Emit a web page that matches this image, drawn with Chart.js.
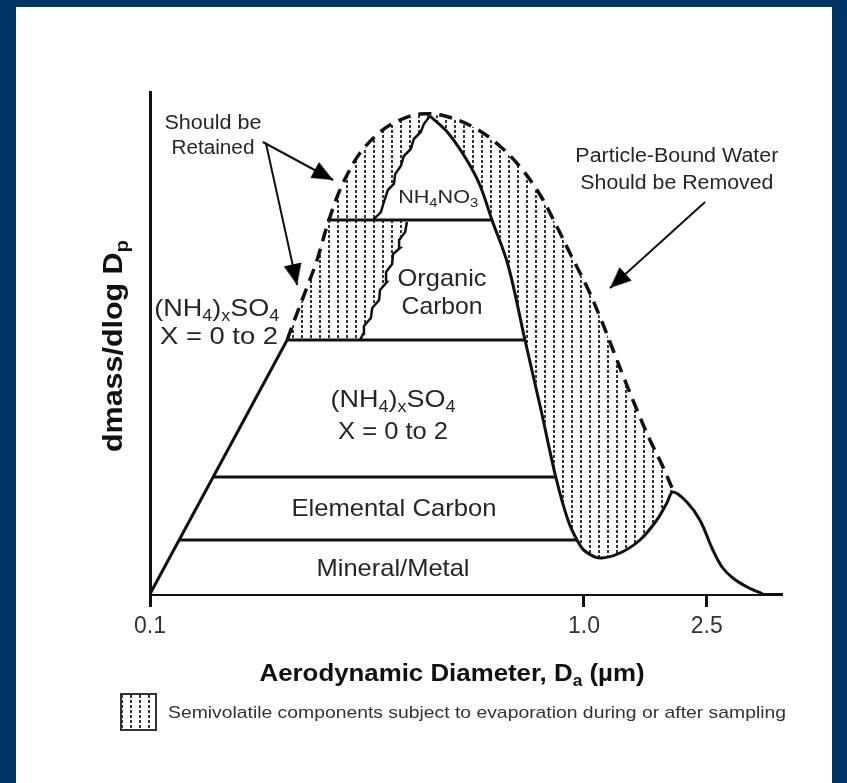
<!DOCTYPE html>
<html>
<head>
<meta charset="utf-8">
<script src="https://cdn.jsdelivr.net/npm/chart.js@4.4.1/dist/chart.umd.min.js"></script>
<style>
html,body{margin:0;padding:0;background:#003366;width:847px;height:783px;overflow:hidden}
#panel{position:absolute;left:16px;top:7px;width:816px;height:776px;background:#ffffff}
#wrap{position:absolute;left:0;top:0;width:847px;height:783px}
</style>
</head>
<body>
<div id="panel"></div>
<div id="wrap"><canvas id="c" width="847" height="783"></canvas></div>
<script>
// ---------- data (schematic units: x = 0 at 0.1 µm, 100 at 1.0 µm; y = relative dmass/dlogDp) ----------
const xTickPositions = [0, 100, 128.3];
const xTickLabels = ['0.1', '1.0', '2.5'];

// outer (dashed) envelope incl. particle-bound water & semivolatiles
const outerX = [31.6,33.9,36.2,38.5,40.8,43.1,45.4,48.4,53.0,57.6,62.2,68.0,74.9,80.6,85.3,89.9,93.8,97.2,100.7,103.7,106.7,109.4,112.4,115.2,118.0,120.5];
const outerY = [50.8,56.2,61.4,66.8,73.6,79.4,83.8,88.2,92.4,94.8,96.0,95.6,93.2,89.6,85.4,79.8,73.4,67.4,61.4,55.4,48.8,42.8,36.4,30.8,25.8,20.8];

// solid mass distribution (fine mode right flank + coarse mode)
const massX = [64.5,68.7,73.0,76.0,78.8,82.5,86.4,90.1,93.5,96.3,98.4,100.2,103.7,108.3,112.9,116.8,119.1,120.5,123.7,126.7,129.7,131.8,134.3,137.6,141.2];
const massY = [95.6,92.2,86.8,81.8,74.8,65.8,50.8,36.8,23.4,14.8,10.8,8.6,7.2,8.2,10.8,14.8,18.2,20.4,18.4,14.8,8.8,5.4,3.2,1.4,0];

// jagged evaporation edge of NH4NO3 layer
const nitrateEdgeX = [51.4,53.2,53.9,54.8,56.2,56.5,57.8,58.5,60.1,60.8,62.4,63.1,64.5];
const nitrateEdgeY = [74.8,76.4,78.4,80.8,82.0,84.0,85.6,87.6,89.0,91.0,92.4,94.0,95.6];

// jagged evaporation edge of organic carbon layer
const organicEdgeX = [48.4,49.1,49.3,50.9,51.2,52.8,53.0,54.6,54.4,55.8,56.0,57.6,57.4,58.8,59.2];
const organicEdgeY = [50.8,52.0,53.6,55.2,57.2,58.8,60.8,62.4,64.4,66.0,68.0,69.2,70.8,72.4,74.4];

// left rising flank
const leftEdgeX = [0, 31.6];
const leftEdgeY = [0, 50.8];

// layer boundaries (Mineral/Metal | Elemental C | (NH4)xSO4 | Organic C)
const layerTopY   = [10.8, 23.4, 50.8, 74.8];
const layerStartX = [6.7, 14.6, 31.6, 40.8];
const layerEndX   = [98.4, 93.5, 86.4, 78.8];

// annotation arrows
const arrowStartX = [26.0, 26.7, 127.9];
const arrowStartY = [90.4, 90.2, 78.4];
const arrowTipX   = [42.2, 33.9, 106.0];
const arrowTipY   = [82.8, 61.8, 61.2];

// in-plot labels (anchored in data units)
const labelTexts = ['Should be','Retained','Particle-Bound Water','Should be Removed','NH_4NO_3','Organic','Carbon','(NH_4)_xSO_4','X = 0 to 2','(NH_4)_xSO_4','X = 0 to 2','Elemental Carbon','Mineral/Metal'];
const labelX = [14.5,14.5,121.4,121.4,66.4,67.3,67.3,15.4,15.9,56.0,56.0,56.2,56.0];
const labelY = [94.4,89.4,87.8,82.4,79.6,63.4,57.8,57.4,51.8,39.2,32.8,17.4,5.4];

const xTitle = 'Aerodynamic Diameter, D_a (µm)';
const yTitle = 'dmass/dlog D_p';
const legendText = 'Semivolatile components subject to evaporation during or after sampling';

// ---------- styles ----------
const FONT = '"Liberation Sans", Arial, Helvetica, sans-serif';
const labelSize  = [20,20,20,20,19,24,24,24,24,24,24,24,24];
const labelWidth = [97,83,203,193,80,89,81,125,118,125,110,205,153];
const INK = '#111111';
const TXT = '#262626';

const canvas = document.getElementById('c');
const g2 = canvas.getContext('2d');

function makeDotPattern() {
  const t = document.createElement('canvas');
  t.width = 9; t.height = 5;
  const g = t.getContext('2d');
  g.fillStyle = '#333333';
  g.fillRect(4, 0, 2, 3);
  return g2.createPattern(t, 'repeat');
}
function makeArrowHead() {
  const t = document.createElement('canvas');
  t.width = 48; t.height = 48;
  const g = t.getContext('2d');
  g.fillStyle = '#000';
  g.beginPath();
  g.moveTo(24, 24); g.lineTo(33, 45); g.lineTo(15, 45); g.closePath();
  g.fill();
  return t;
}
const dotPattern = makeDotPattern();
const arrowHead = makeArrowHead();

const zip = (xs, ys) => xs.map((x, i) => ({x: x, y: ys[i]}));

// polygons built from the arrays above
const dottedPoly = zip(outerX, outerY).concat([{x: outerX[outerX.length-1], y: 0}, {x: outerX[0], y: 0}]);
const whitePoly = zip(leftEdgeX, leftEdgeY)
  .concat(zip(organicEdgeX, organicEdgeY))
  .concat([{x: organicEdgeX[organicEdgeX.length-1], y: layerTopY[3]}])
  .concat(zip(nitrateEdgeX, nitrateEdgeY))
  .concat(zip(massX, massY).slice(1));

function arrowRotation(ctx) {
  const ch = ctx.chart, sx = ch.scales.x, sy = ch.scales.y;
  const d = ctx.dataset.data;
  const dx = sx.getPixelForValue(d[1].x) - sx.getPixelForValue(d[0].x);
  const dy = sy.getPixelForValue(d[1].y) - sy.getPixelForValue(d[0].y);
  return Math.atan2(dx, -dy) * 180 / Math.PI;
}

const datasets = [];
for (let i = 0; i < arrowStartX.length; i++) {
  datasets.push({
    data: [{x: arrowStartX[i], y: arrowStartY[i]}, {x: arrowTipX[i], y: arrowTipY[i]}],
    borderColor: INK, borderWidth: 2, tension: 0,
    pointRadius: [0, 5], pointStyle: arrowHead, pointRotation: arrowRotation,
    pointBackgroundColor: '#000', pointBorderWidth: 0
  });
}
datasets.push({ data: zip(outerX, outerY), borderColor: INK, borderWidth: 3.5, borderDash: [13, 8], tension: 0.35, borderCapStyle: 'butt' });
datasets.push({ data: zip(massX, massY), borderColor: INK, borderWidth: 3, tension: 0.35 });
datasets.push({ data: zip(nitrateEdgeX, nitrateEdgeY), borderColor: INK, borderWidth: 2.5, tension: 0 });
datasets.push({ data: zip(organicEdgeX, organicEdgeY), borderColor: INK, borderWidth: 2.5, tension: 0 });
datasets.push({ data: zip(leftEdgeX, leftEdgeY), borderColor: INK, borderWidth: 3, tension: 0 });
for (let i = 0; i < layerTopY.length; i++) {
  datasets.push({ data: [{x: layerStartX[i], y: layerTopY[i]}, {x: layerEndX[i], y: layerTopY[i]}], borderColor: INK, borderWidth: 3, tension: 0 });
}
datasets.push({ data: whitePoly, borderWidth: 0, borderColor: 'rgba(0,0,0,0)', backgroundColor: '#ffffff', fill: 'shape', tension: 0 });
datasets.push({ data: dottedPoly, borderWidth: 0, borderColor: 'rgba(0,0,0,0)', backgroundColor: dotPattern, fill: 'shape', tension: 0 });

function parseRich(s) {
  const parts = []; let buf = '';
  for (let i = 0; i < s.length; i++) {
    if (s[i] === '_' && i + 1 < s.length) {
      if (buf) { parts.push({t: buf}); buf = ''; }
      parts.push({t: s[i+1], sub: true}); i++;
    } else buf += s[i];
  }
  if (buf) parts.push({t: buf});
  return parts;
}
function drawRich(ctx, str, cx, cy, size, weight, targetW, color, rot, align) {
  const parts = parseRich(str);
  const mainFont = weight + ' ' + size + 'px ' + FONT;
  const subFont = weight + ' ' + Math.round(size * 0.68) + 'px ' + FONT;
  ctx.save();
  let w = 0;
  for (const p of parts) { ctx.font = p.sub ? subFont : mainFont; p.w = ctx.measureText(p.t).width; w += p.w; }
  const sx = targetW ? targetW / w : 1;
  ctx.translate(cx, cy);
  if (rot) ctx.rotate(rot);
  ctx.scale(sx, 1);
  ctx.fillStyle = color;
  ctx.textBaseline = 'alphabetic';
  ctx.textAlign = 'left';
  let x = align === 'left' ? 0 : -w / 2;
  const base = size * 0.358;
  for (const p of parts) {
    ctx.font = p.sub ? subFont : mainFont;
    ctx.fillText(p.t, x, base + (p.sub ? size * 0.24 : 0));
    x += p.w;
  }
  ctx.restore();
}

const annotationPlugin = {
  id: 'schematicText',
  afterDraw(chart) {
    const ctx = chart.ctx, sx = chart.scales.x, sy = chart.scales.y, area = chart.chartArea;
    for (let i = 0; i < labelTexts.length; i++) {
      drawRich(ctx, labelTexts[i], sx.getPixelForValue(labelX[i]), sy.getPixelForValue(labelY[i]), labelSize[i], 'normal', labelWidth[i], TXT);
    }
    // axis titles
    drawRich(ctx, xTitle, 452, area.bottom + 78, 24, 'bold', 385, INK);
    drawRich(ctx, yTitle, area.left - 38, 346, 27, 'bold', 212, INK, -Math.PI / 2);
    // legend
    const bx = 121, by = 694, bw = 35, bh = 36;
    ctx.save();
    ctx.fillStyle = '#ffffff';
    ctx.fillRect(bx, by, bw, bh);
    ctx.fillStyle = dotPattern;
    ctx.fillRect(bx, by, bw, bh);
    ctx.strokeStyle = '#333';
    ctx.lineWidth = 2;
    ctx.strokeRect(bx, by, bw, bh);
    ctx.restore();
    drawRich(ctx, legendText, 168, 712, 17, 'normal', 618, '#333', 0, 'left');
  }
};

new Chart(canvas, {
  type: 'line',
  data: { datasets: datasets },
  plugins: [annotationPlugin],
  options: {
    responsive: false,
    animation: false,
    events: [],
    layout: { padding: { left: 150, right: 66, top: 92, bottom: 129 } },
    elements: { point: { radius: 0, hoverRadius: 0 }, line: { fill: false } },
    plugins: { legend: { display: false }, tooltip: { enabled: false }, title: { display: false } },
    scales: {
      x: {
        type: 'linear', min: 0, max: 145.4, z: 1,
        afterFit: (s) => { s.height = 60; },
        afterBuildTicks: (s) => { s.ticks = xTickPositions.map(v => ({value: v})); },
        ticks: {
          autoSkip: false, maxRotation: 0, minRotation: 0, padding: 6,
          color: '#333', font: { family: FONT, size: 23 },
          callback: (v, i) => xTickLabels[i]
        },
        grid: { display: true, drawOnChartArea: false, drawTicks: true, tickLength: 13, color: INK, lineWidth: 3 },
        border: { display: true, color: INK, width: 3 }
      },
      y: {
        type: 'linear', min: 0, max: 100.4, z: 1,
        afterFit: (s) => { s.width = 0; },
        ticks: { display: false },
        grid: { display: false, drawTicks: false },
        border: { display: true, color: INK, width: 3 }
      }
    }
  }
});
</script>
</body>
</html>
